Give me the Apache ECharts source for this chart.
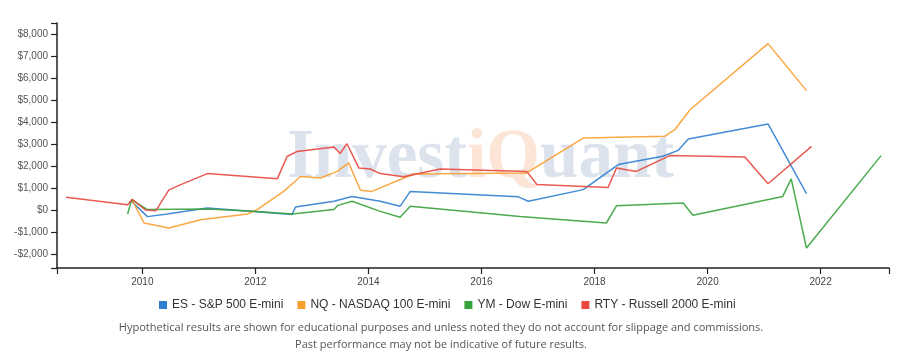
<!DOCTYPE html>
<html><head><meta charset="utf-8">
<script src="https://cdn.jsdelivr.net/npm/echarts@6/dist/echarts.min.js"></script>
<style>html,body{margin:0;padding:0;background:#fff}#c{width:915px;height:359px}</style>
</head><body><div id="c"></div>
<script>
// ---- data ----
const seriesNames = ['ES - S&P 500 E-mini', 'NQ - NASDAQ 100 E-mini', 'YM - Dow E-mini', 'RTY - Russell 2000 E-mini'];

const esX = [2009.80, 2010.09, 2010.44, 2011.15, 2012.65, 2012.71, 2013.39, 2013.71, 2014.21, 2014.56, 2014.74, 2016.65, 2016.83, 2017.80, 2018.42, 2019.21, 2019.48, 2019.66, 2021.07, 2021.75];
const esY = [420, -300, -180, 90, -200, 140, 400, 620, 400, 170, 850, 600, 400, 930, 2070, 2450, 2720, 3240, 3920, 750];

const nqX = [2009.82, 2010.03, 2010.47, 2011.03, 2011.86, 2012.03, 2012.50, 2012.80, 2013.15, 2013.45, 2013.65, 2013.86, 2014.06, 2014.80, 2016.80, 2017.80, 2019.24, 2019.42, 2019.69, 2021.07, 2021.75];
const nqY = [450, -590, -815, -440, -180, 20, 850, 1530, 1460, 1760, 2150, 900, 850, 1640, 1690, 3280, 3360, 3660, 4570, 7580, 5440];

const ymX = [2009.74, 2009.81, 2010.09, 2011.15, 2011.97, 2012.65, 2013.39, 2013.45, 2013.71, 2014.21, 2014.56, 2014.74, 2016.68, 2018.21, 2018.39, 2019.57, 2019.74, 2021.33, 2021.48, 2021.75, 2023.07];
const ymY = [-180, 470, 20, 50, -60, -180, 20, 200, 400, -60, -330, 170, -290, -590, 200, 320, -240, 620, 1420, -1730, 2480];

const rtyX = [2008.65, 2009.74, 2009.82, 2010.06, 2010.24, 2010.47, 2010.68, 2011.15, 2012.39, 2012.56, 2012.74, 2013.39, 2013.50, 2013.62, 2013.83, 2014.03, 2014.21, 2014.62, 2015.27, 2016.80, 2016.98, 2018.24, 2018.39, 2018.74, 2019.33, 2020.66, 2021.07, 2021.84];
const rtyY = [580, 240, 490, 0, -30, 920, 1160, 1660, 1430, 2440, 2670, 2870, 2580, 3020, 1920, 1870, 1660, 1520, 1870, 1760, 1160, 1030, 1920, 1760, 2480, 2420, 1200, 2900];

const xTickYears = [2010, 2012, 2014, 2016, 2018, 2020, 2022];
const yTickValues = [-2000, -1000, 0, 1000, 2000, 3000, 4000, 5000, 6000, 7000, 8000];
const xDomain = [2008.49, 2023.21];
const yDomain = [-2640, 8520];

const footnote1 = 'Hypothetical results are shown for educational purposes and unless noted they do not account for slippage and commissions.';
const footnote2 = 'Past performance may not be indicative of future results.';

// ---- chart ----
const colors = ['#2f80d0', '#f99f2f', '#37a23a', '#e8473f'];
const xs = [esX, nqX, ymX, rtyX];
const ys = [esY, nqY, ymY, rtyY];

function money(v) {
  const s = '$' + Math.abs(v).toLocaleString('en-US');
  return v < 0 ? '-' + s : s;
}

const chart = echarts.init(document.getElementById('c'), null, {renderer: 'canvas'});
chart.setOption({
  animation: false,
  color: colors,
  grid: {left: 57, right: 26, top: 23, bottom: 91},
  xAxis: {
    type: 'value', min: xDomain[0], max: xDomain[1],
    axisLine: {show: true, onZero: false, lineStyle: {color: '#222', width: 1.5}},
    axisTick: {show: true, length: 6, lineStyle: {color: '#222', width: 1.2}, customValues: [xDomain[0]].concat(xTickYears, [xDomain[1]])},
    axisLabel: {customValues: xTickYears, formatter: v => String(Math.round(v)), color: '#444', fontSize: 10, fontFamily: 'Liberation Sans', margin: 9},
    splitLine: {show: false}
  },
  yAxis: {
    type: 'value', min: yDomain[0], max: yDomain[1],
    axisLine: {show: true, onZero: false, lineStyle: {color: '#222', width: 1.5}},
    axisTick: {show: true, length: 6, lineStyle: {color: '#222', width: 1.2}, customValues: [yDomain[0]].concat(yTickValues, [yDomain[1]])},
    axisLabel: {customValues: yTickValues, formatter: v => money(Math.round(v)), color: '#555', fontSize: 10, fontFamily: 'Liberation Sans', margin: 9},
    splitLine: {show: false}
  },
  legend: {
    data: seriesNames, left: 154, top: 294, icon: 'rect', itemWidth: 8, itemHeight: 8, itemGap: 14,
    selectedMode: false,
    textStyle: {fontFamily: 'Liberation Sans', fontSize: 12, color: '#333'}
  },
  graphic: [
    {type: 'text', x: 287, y: 159, z: -10, silent: true,
     style: {text: '{a|Invest}{b|iQ}{a|uant}', align: 'left', verticalAlign: 'middle', textAlign: 'left', textVerticalAlign: 'middle',
       rich: {
         a: {fill: '#dce3ec', color: '#dce3ec', fontFamily: 'Liberation Serif', fontWeight: 'bold', fontSize: 69},
         b: {fill: '#fce5d7', color: '#fce5d7', fontFamily: 'Liberation Serif', fontWeight: 'bold', fontSize: 69}
       }}},
    {type: 'text', x: 441, y: 328, style: {text: footnote1, align: 'center', verticalAlign: 'middle', textAlign: 'center', textVerticalAlign: 'middle', font: "11px 'Open Sans'", fill: '#555'}},
    {type: 'text', x: 441, y: 345, style: {text: footnote2, align: 'center', verticalAlign: 'middle', textAlign: 'center', textVerticalAlign: 'middle', font: "11px 'Open Sans'", fill: '#555'}}
  ],
  series: seriesNames.map((n, i) => ({
    name: n, type: 'line', showSymbol: false, symbol: 'none',
    lineStyle: {width: 1.5, opacity: 0.9},
    data: xs[i].map((x, k) => [x, ys[i][k]])
  }))
});
</script>
</body></html>
